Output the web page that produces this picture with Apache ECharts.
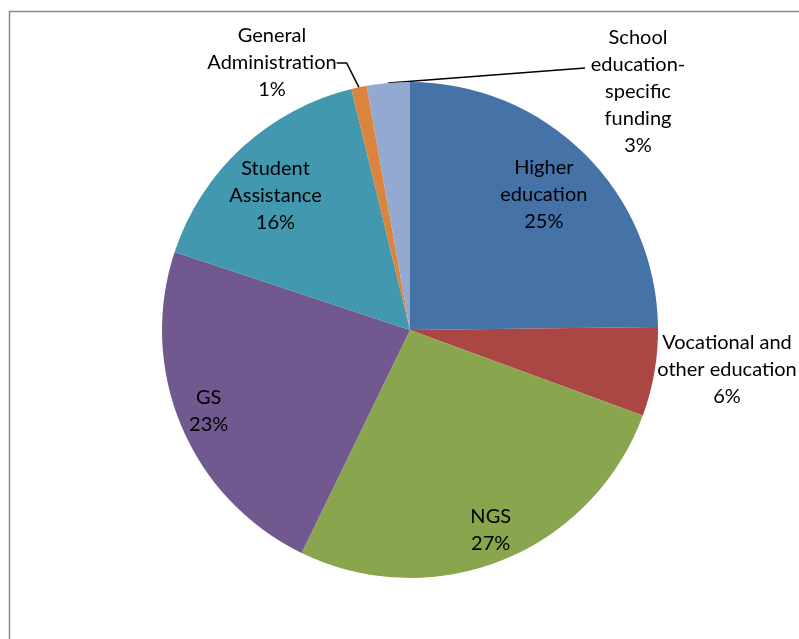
<!DOCTYPE html>
<html>
<head>
<meta charset="utf-8">
<script src="https://cdn.jsdelivr.net/npm/echarts@6/dist/echarts.min.js"></script>
<style>
  html, body { margin: 0; padding: 0; background: #fff; }
  #main { width: 799px; height: 639px; }
</style>
</head>
<body>
<div id="main"></div>
<script>
// slice names, clockwise from 12 o'clock
const categories = [
  'Higher\neducation',
  'Vocational and\nother education',
  'NGS',
  'GS',
  'Student\nAssistance',
  'General\nAdministration',
  'School\neducation-\nspecific\nfunding'
];
// share of spending (%)
const values = [24.8, 5.8, 26.6, 22.9, 16.1, 1.0, 2.8];
const colors = ['#4572A7', '#AA4643', '#89A54E', '#71588F', '#4198AF', '#DB843D', '#93A9CF'];

const cx = 410, cy = 330, R = 248;
const LH = 27;
// inside labels: how far out from the centre (fraction of radius) + small nudge
const insideRatio = { 0: 0.75, 2: 0.85, 3: 0.86, 4: 0.77 };
const nudge = { 3: [0, -4], 4: [-2, 9] };
// outside labels: where the text block sits
const outsidePos = { 1: [727, 370], 5: [272, 63], 6: [638, 92] };

// mid angle of each slice, clockwise from 12 o'clock (radians)
const total = values.reduce((a, b) => a + b, 0);
const midAngle = [];
let acc = 0;
values.forEach(v => { midAngle.push((acc + v / 2) / total * Math.PI * 2); acc += v; });

const chart = echarts.init(document.getElementById('main'));

const data = values.map((v, i) => {
  const inside = insideRatio[i] !== undefined;
  return {
    name: categories[i],
    value: v,
    itemStyle: { color: colors[i] },
    label: { position: inside ? 'inside' : 'outside' },
    labelLine: { show: i === 5 || i === 6 }
  };
});

chart.setOption({
  animation: false,
  graphic: [{
    type: 'rect',
    shape: { x: 9.5, y: 11.5, width: 1000, height: 1000 },
    style: { fill: 'none', stroke: '#8c8c8c', lineWidth: 1.5 },
    silent: true
  }],
  series: [{
    type: 'pie',
    center: [cx, cy],
    radius: [0, R],
    startAngle: 90,
    clockwise: true,
    silent: true,
    itemStyle: { borderWidth: 0 },
    label: {
      show: true,
      color: '#000',
      fontFamily: 'Lato',
      fontSize: 20,
      lineHeight: LH,
      align: 'center',
      overflow: 'none',
      edgeDistance: 0,
      formatter: p => p.name + '\n' + Math.round(p.value) + '%'
    },
    labelLine: {
      show: true,
      length: 8,
      length2: 10,
      smooth: false,
      lineStyle: { color: '#000', width: 1.5 }
    },
    labelLayout: function (params) {
      const i = params.dataIndex;
      const r = params.labelRect;
      if (insideRatio[i] !== undefined) {
        const lx = r.x + r.width / 2, ly = r.y + r.height / 2;
        const k = insideRatio[i] / 0.5;
        const n = nudge[i] || [0, 0];
        return {
          x: cx + (lx - cx) * k + n[0],
          y: cy + (ly - cy) * k + n[1],
          align: 'center', verticalAlign: 'middle'
        };
      }
      const p = outsidePos[i];
      const out = { x: p[0], y: p[1], align: 'center', verticalAlign: 'middle' };
      if (i === 6) {
        // straight leader from the slice rim to the "education-" line
        const a = midAngle[i];
        const sx = cx + R * Math.sin(a), sy = cy - R * Math.cos(a);
        const ex = p[0] - 53, ey = p[1] - r.height / 2 + LH * 1.5 + 3;
        out.labelLinePoints = [[sx, sy], [(sx + ex) / 2, (sy + ey) / 2], [ex, ey]];
      }
      return out;
    },
    data: data
  }]
});
</script>
</body>
</html>
